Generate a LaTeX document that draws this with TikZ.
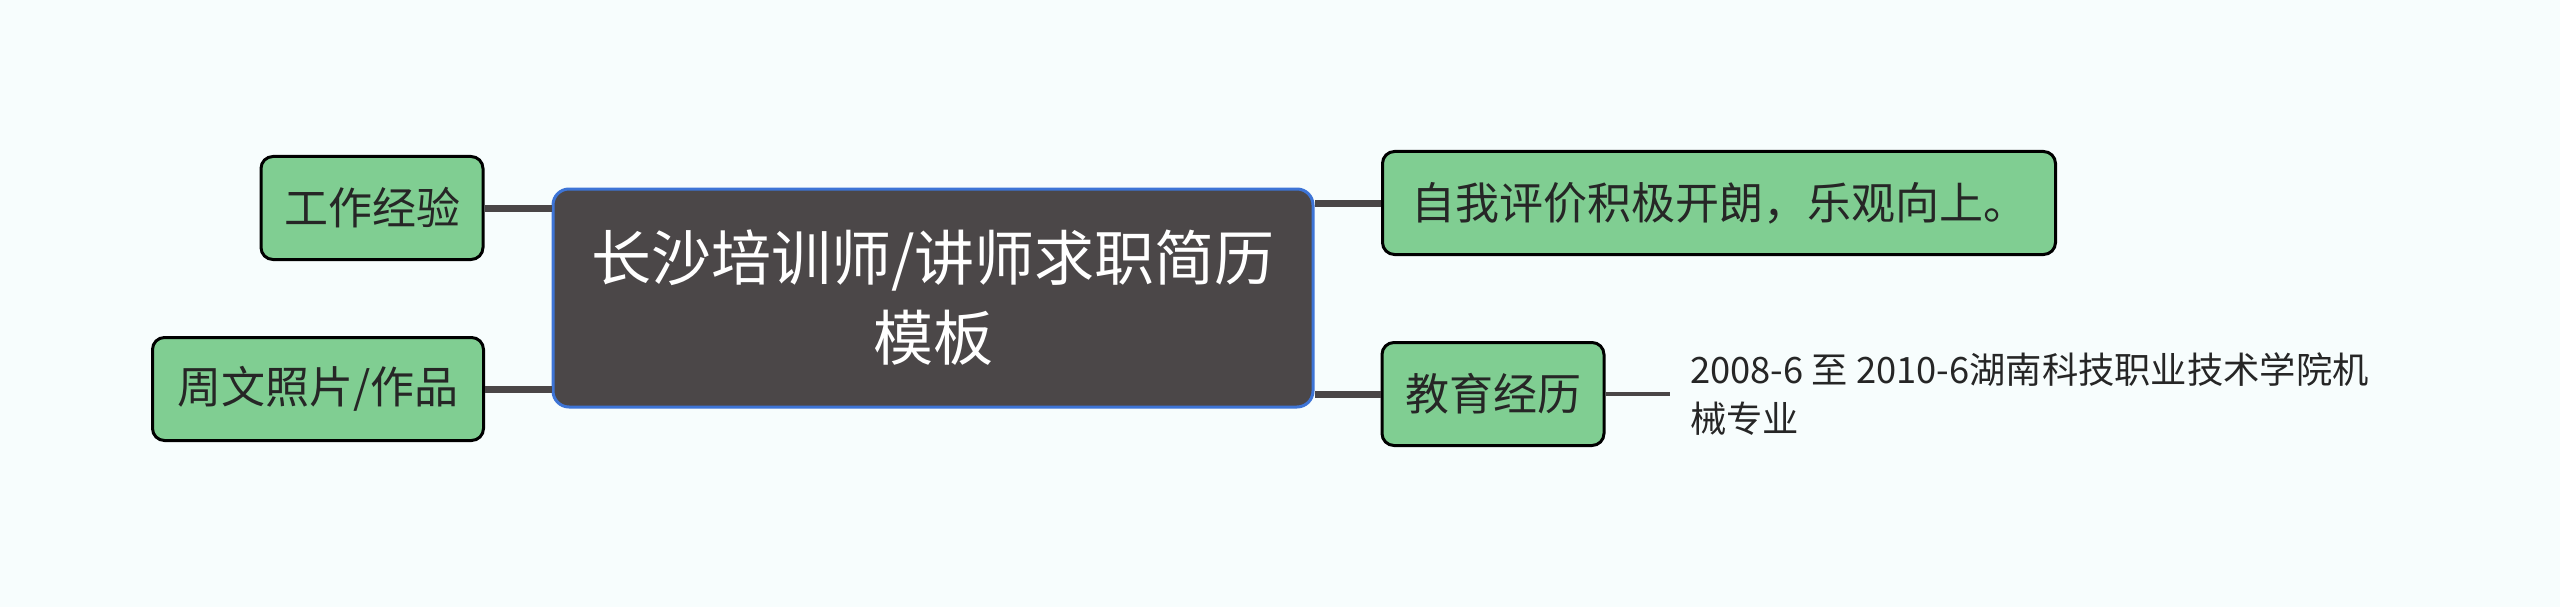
\documentclass[tikz,border=0pt]{standalone}
\usepackage{fontspec}
\setmainfont{Noto Sans CJK SC}
\definecolor{cvBack}{HTML}{F7FDFD}
\definecolor{cvGreen}{HTML}{80CE92}
\definecolor{cvDark}{HTML}{4B4748}
\definecolor{cvBlue}{HTML}{3D74D6}
\definecolor{cvLine}{HTML}{4A4647}
\begin{document}
\begin{tikzpicture}[x=1pt,y=-1pt]
\tikzset{
    cvTitle/.style={rectangle,rounded corners=16pt,draw=cvBlue,line width=3pt,fill=cvDark,text=white,minimum width=760pt,minimum height=218pt,align=center,font=\fontsize{60}{80}\selectfont},
    cvTopic/.style={rectangle,rounded corners=12pt,draw=black,line width=3pt,fill=cvGreen,text=black!85,minimum height=103pt,inner xsep=0pt,font=\fontsize{44}{52}\selectfont},
    cvNote/.style={align=left,anchor=west,inner xsep=20pt,font=\fontsize{36.3}{49}\selectfont,text=black!85},
    cvLink/.style={draw=cvLine,line width=7pt}
}
\fill[cvBack] (0,0) rectangle (2560,607);
\useasboundingbox (0,0) rectangle (2560,607);

% central topic and its branches
\coordinate (T) at (933,298);   % title
\coordinate (W) at (372,208);   % work
\coordinate (P) at (318,389);   % photos
\coordinate (S) at (1719,203);  % self
\coordinate (E) at (1493,394);  % education
\coordinate (N) at (1670,394);  % note

\node[cvTitle] (title) at (T) {长沙培训师/讲师求职简历\\模板};
\node[cvTopic,minimum width=222pt] (work) at (W) {工作经验};
\node[cvTopic,minimum width=331pt] (photo) at (P) {周文照片/作品};
\node[cvTopic,minimum width=673pt] (self) at (S) {自我评价积极开朗，乐观向上。};
\node[cvTopic,minimum width=222pt] (edu) at (E) {教育经历};
\node[cvNote] (note) at (N) {2008-6 至 2010-6湖南科技职业技术学院机\\械专业};

\draw[cvLink] (work.east) -- (work.east -| title.west);
\draw[cvLink] (photo.east) -- (photo.east -| title.west);
\draw[cvLink] (self.west) -- (self.west -| title.east);
\draw[cvLink] (edu.west) -- (edu.west -| title.east);
\draw[cvLink,line width=4pt] (edu.east) -- (note.west);
\end{tikzpicture}
\end{document}
